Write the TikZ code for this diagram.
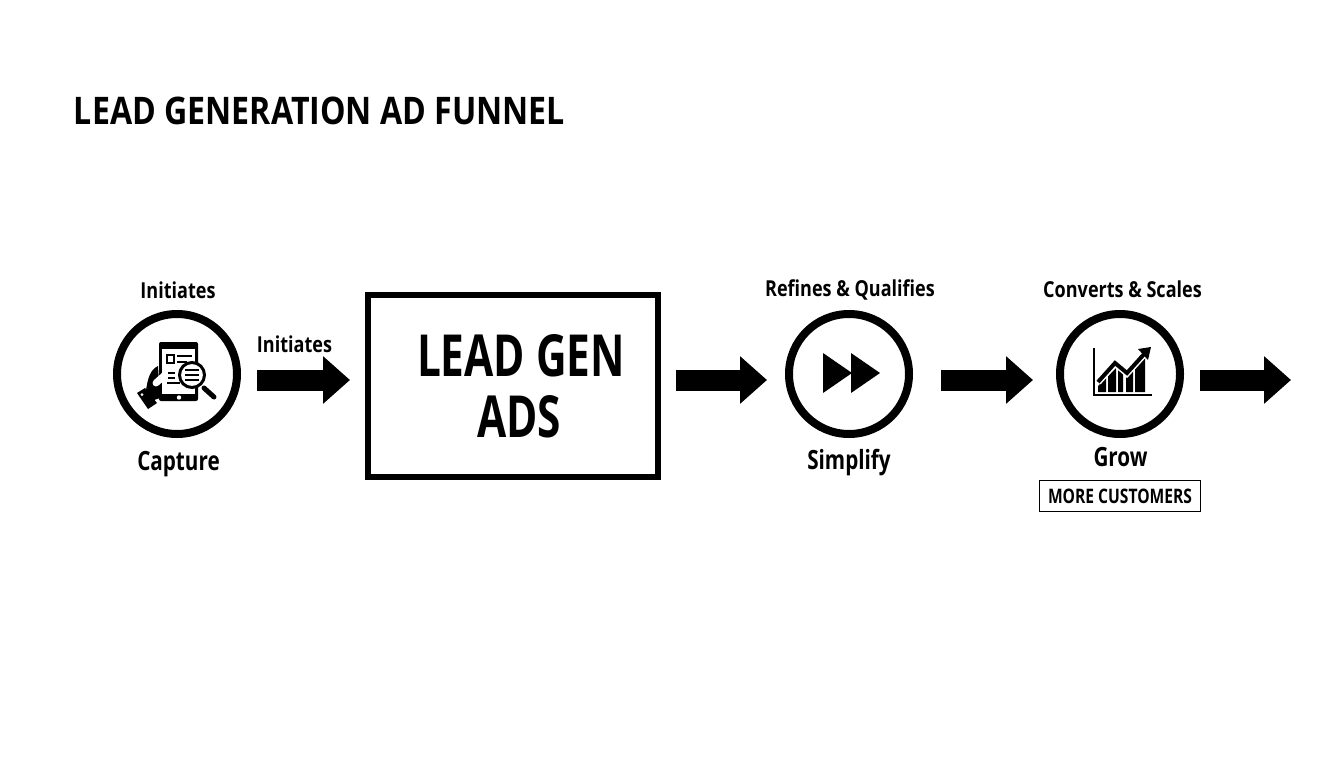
\documentclass[tikz,border=0pt]{standalone}
\usepackage{fontspec}
\setmainfont{Open Sans}
\usetikzlibrary{arrows.meta}
\tikzset{
  ring/.style = {circle, draw, line width = 8pt, minimum size = 120pt, inner sep = 0pt},
  flow/.style = {-{Triangle[length = 27pt, width = 46pt]}, line width = 21pt},
  label/.style = {font = \bfseries\fontsize{26.5}{26.5}\selectfont, xscale = 0.78, inner sep = 0pt},
  small/.style = {font = \bfseries\fontsize{22}{22}\selectfont, xscale = 0.82, inner sep = 0pt},
  tag/.style = {font = \bfseries\fontsize{20}{20}\selectfont, xscale = 0.78, inner sep = 0pt},
  big/.style = {font = \bfseries\fontsize{58}{58}\selectfont, xscale = 0.73, inner sep = 0pt}
}
\begin{document}
\begin{tikzpicture}[x = 1pt, y = -1pt]
  \useasboundingbox (0,0) rectangle (1344,768);
  \node [inner sep = 0pt, xscale = 0.846, font = \bfseries\fontsize{38}{38}\selectfont] (title) at (319.5,111) {LEAD GENERATION AD FUNNEL};

  \coordinate (row) at (0,380);
  \coordinate (exit) at (1291,380);
  \node [ring] (capture) at (177,374) {};
  \node [ring] (simplify) at (849,374) {};
  \node [ring] (grow) at (1120,374) {};
  \node [draw, line width = 6pt, minimum width = 290pt, minimum height = 182pt] (ads) at (513,386) {};
  \node [big] (adsa) at (521,356) {LEAD GEN};
  \node [big] (adsb) at (519,417) {ADS};

  \node [small] (t1) at (178,290) {Initiates};
  \node [small] (t2) at (294.5,344) {Initiates};
  \node [small] (t3) at (850,290) {Refines \& Qualifies};
  \node [small] (t4) at (1122.5,289) {Converts \& Scales};
  \node [label] (b1) at (178.5,464) {Capture};
  \node [label] (b2) at (849,463) {Simplify};
  \node [label] (b3) at (1120.5,457) {Grow};
  \node [draw, line width = 1.5pt, minimum width = 161pt, minimum height = 31pt] (more) at (1120,496) {};
  \node [tag] (moret) at (1120,496) {MORE CUSTOMERS};

  \draw [flow, shorten < = 16pt, shorten > = 15pt] (capture.east |- row) -- (ads.west |- row);
  \draw [flow, shorten < = 15pt, shorten > = 18pt] (ads.east |- row) -- (simplify.west |- row);
  \draw [flow, shorten < = 28pt, shorten > = 23pt] (simplify.east |- row) -- (grow.west |- row);
  \draw [flow, shorten < = 16pt] (grow.east |- row) -- (exit);

  % phone
  \fill [rounded corners = 2pt] (159,342) rectangle (198,401);
  \fill [white] (162,349) rectangle (195,394);
  \fill [white] (179,397.5) circle (2.2);
  \draw [line width = 1.5pt] (167,355) rectangle (174,363);
  \foreach \y/\s/\e in {356/177/192, 362/177/187, 373/168/175, 378/168/175, 383/167/180}
    \draw [line width = 1.5pt] (\s,\y) -- (\e,\y);
  % lens
  \draw [fill = white, line width = 3pt] (192,375) circle (12.5);
  \draw [line width = 5pt, line cap = round] (204,388) -- (214,397);
  \foreach \y in {370,375,380}
    \draw [line width = 1.5pt] (185,\y) -- (199,\y);
  % hand
  \fill (137,393) -- (145,388) -- (157,403) -- (148,409) -- cycle;
  \fill [white] (142,394.5) circle (1.5);
  \fill (146,390) .. controls (148,378) and (150,370) .. (158,366) -- (160,398) -- (154,400) -- cycle;
  \draw [white, line width = 7pt, line cap = round] (156,383) -- (165,375);

  % play
  \fill (823,353) -- (852,373) -- (823,393) -- cycle;
  \fill (851,353) -- (880,373) -- (851,393) -- cycle;

  % chart
  \draw [line width = 2.5pt] (1094,348) -- (1094,395) -- (1152,395);
  \foreach \a/\b/\c/\d in {1098/1106/386/378, 1108/1116/376/368, 1118/1123/370/374, 1126/1133/378/371, 1135/1145/369/358}
    \fill (\a,\c) -- (\b,\d) -- (\b,392) -- (\a,392) -- cycle;
  \draw [line width = 7pt, white] (1098,382) -- (1115,363) -- (1127,373) -- (1146,352);
  \draw [line width = 4pt] (1098,382) -- (1115,363) -- (1127,373) -- (1146,352);
  \fill (1151,347) -- (1138,349) -- (1148,360) -- cycle;
\end{tikzpicture}
\end{document}
